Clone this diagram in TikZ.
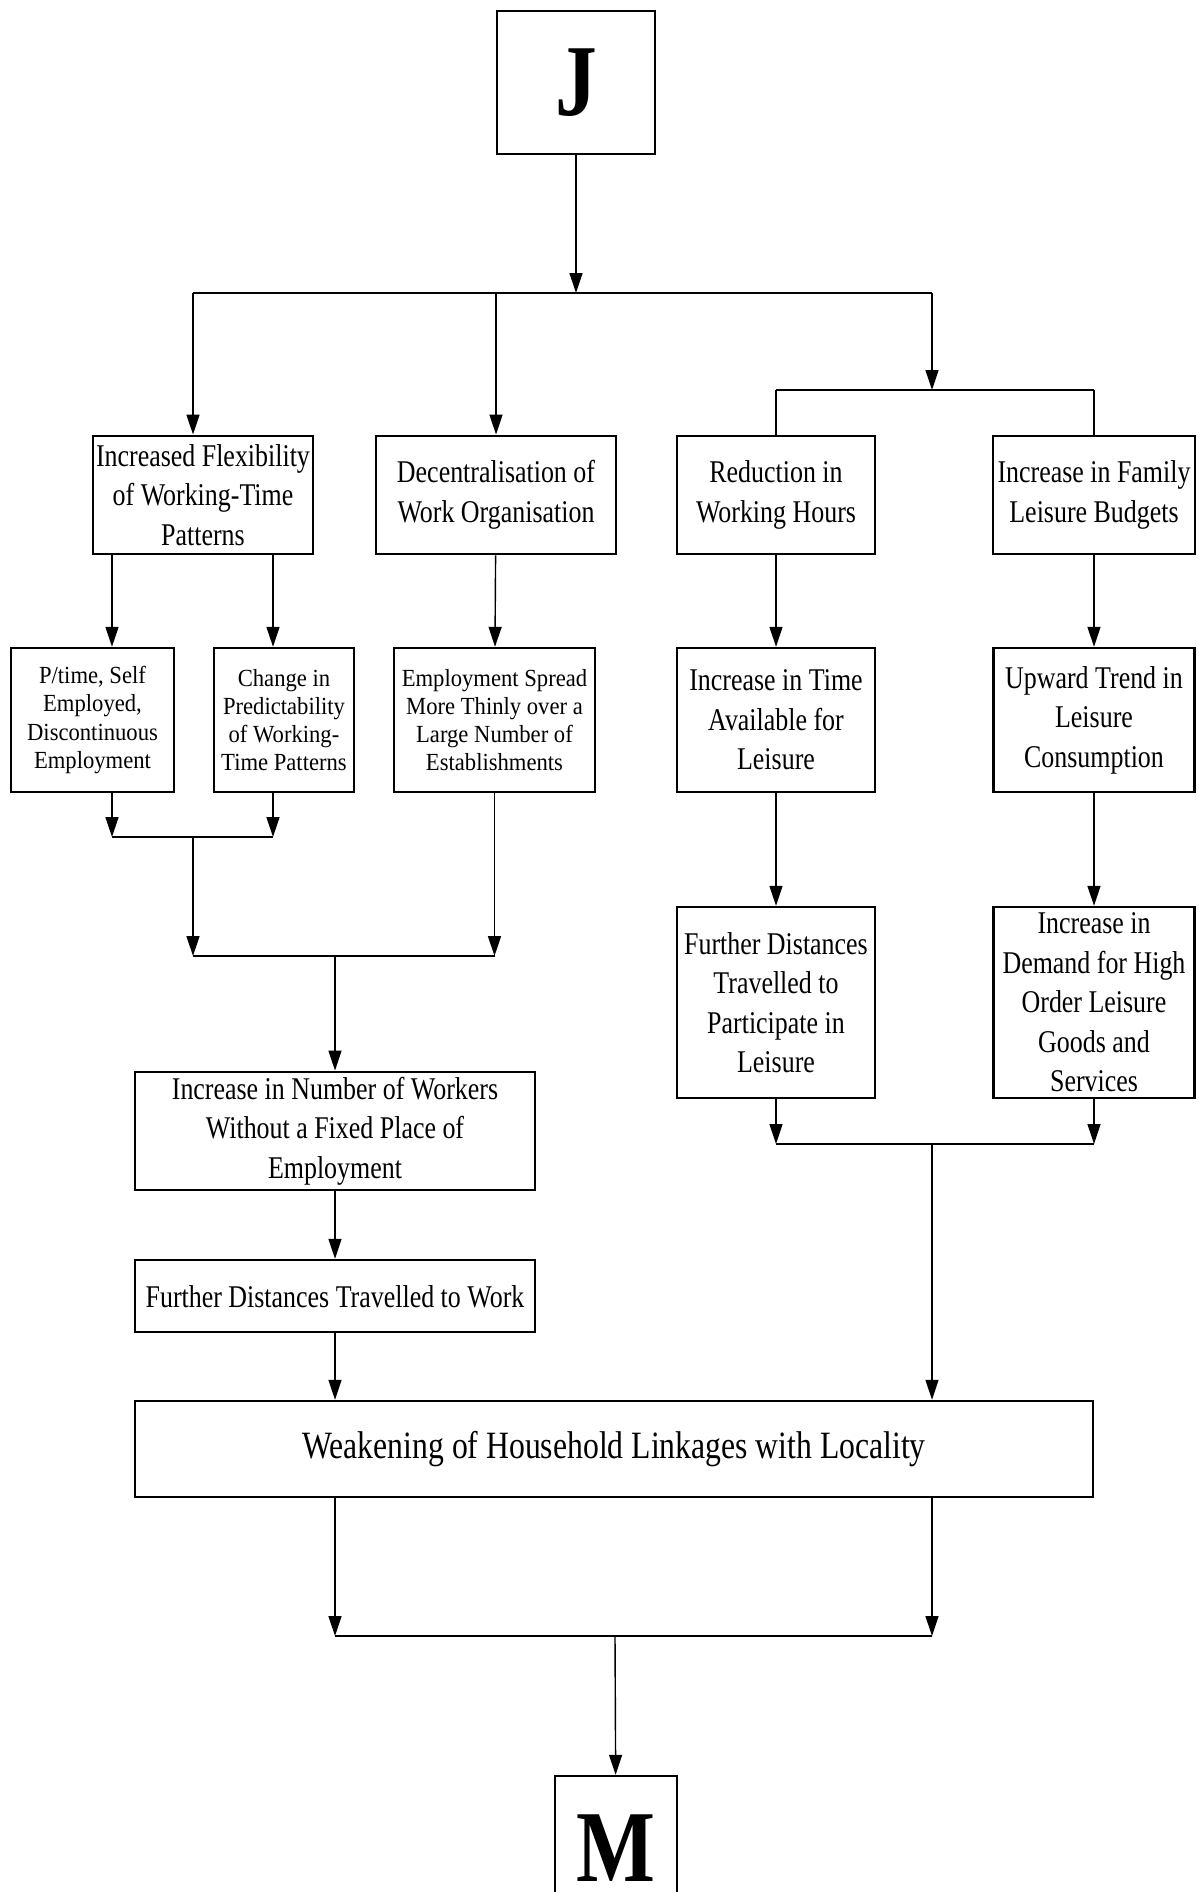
\documentclass[tikz,border=0pt]{standalone}
\usepackage{fontspec}
\setmainfont[FakeStretch=0.82]{Liberation Serif}
\newfontfamily\smallserif[FakeStretch=0.92]{Liberation Serif}
\usetikzlibrary{arrows.meta,positioning,calc}

\begin{document}
\begin{tikzpicture}[x=0.02cm,y=-0.02cm,font=\fontsize{18}{22.5}\selectfont,
    box/.style={draw,line width=1.4pt,inner sep=0pt,align=center},
    smallbox/.style={box,font=\smallserif\fontsize{14}{16}\selectfont},
    letterbox/.style={box,font=\fontsize{58}{60}\selectfont\bfseries},
    arr/.style={line width=0.8pt,-{Triangle[length=4mm,width=2.6mm]}},
    link/.style={line width=0.8pt},
    bar/.style={line width=1.6pt}]
      \clip (0,0) rectangle (1198,1892);

      \node[letterbox,minimum width=3.16cm,minimum height=2.86cm] (J) at (576,82.5) {J};

      \node[box,minimum width=4.40cm,minimum height=2.37cm] (flex) at (203,495)
        {Increased Flexibility\\of Working-Time\\Patterns};
      \node[box,minimum width=4.81cm,minimum height=2.37cm] (decent) at (496,495)
        {Decentralisation of\\Work Organisation};
      \node[box,minimum width=3.97cm,minimum height=2.37cm] (hours) at (776,495)
        {Reduction in\\Working Hours};
      \node[box,minimum width=4.05cm,minimum height=2.37cm] (budget) at (1094,495)
        {Increase in Family\\Leisure Budgets};

      \node[smallbox,minimum width=3.26cm,minimum height=2.88cm] (ptime) at (92.5,720)
        {P/time, Self\\Employed,\\Discontinuous\\Employment};
      \node[smallbox,minimum width=2.81cm,minimum height=2.88cm] (predict) at (284,720)
        {Change in\\Predictability\\of Working-\\Time Patterns};
      \node[smallbox,minimum width=4.02cm,minimum height=2.88cm] (spread) at (494.5,720)
        {Employment Spread\\More Thinly over a\\Large Number of\\Establishments};
      \node[box,minimum width=3.97cm,minimum height=2.88cm] (timeav) at (776,720)
        {Increase in Time\\Available for\\Leisure};
      \node[box,minimum width=4.02cm,minimum height=2.88cm] (trend) at (1094,720)
        {Upward Trend in\\Leisure\\Consumption};

      \node[box,minimum width=3.97cm,minimum height=3.82cm] (travel) at (776,1002.5)
        {Further Distances\\Travelled to\\Participate in\\Leisure};
      \node[box,minimum width=4.02cm,minimum height=3.82cm] (demand) at (1094,1002.5)
        {Increase in\\Demand for High\\Order Leisure\\Goods and\\Services};

      \node[box,minimum width=8.0cm,minimum height=2.37cm] (workers) at (335,1131)
        {Increase in Number of Workers\\Without a Fixed Place of\\Employment};
      \node[box,minimum width=8.0cm,minimum height=1.44cm,text height=1.3em,text depth=0pt]
        (distwork) at (335,1296) {Further Distances Travelled to Work};
      \node[box,minimum width=19.16cm,minimum height=1.92cm,font=\fontsize{22}{26}\selectfont]
        (weaken) at (614,1449) {Weakening of Household Linkages with Locality};

      \node[letterbox,minimum width=2.44cm,minimum height=2.9cm] (M) at (616,1848.5) {M};

      \coordinate (topl) at (193,293);
      \coordinate (topr) at (932,293);
      \coordinate (rightbar) at (932,390);
      \coordinate (ptin) at ([xshift=0.39cm]ptime.north);
      \coordinate (prin) at ([xshift=-0.22cm]predict.north);
      \coordinate (lowbar1) at (193,837);
      \coordinate (lowbar2) at (193,956);
      \coordinate (leisbar) at (932,1144);
      \coordinate (endbar) at (615,1636);

      \draw[arr] (J) -- (J |- topl);
      \draw[bar] (topl) -- (topr);
      \draw[arr] (topl) -- (topl |- flex.north);
      \draw[arr] (decent |- topl) -- (decent);
      \draw[arr] (topr) -- (rightbar);
      \draw[bar] (hours |- rightbar) -- (budget |- rightbar);
      \draw[link] (hours |- rightbar) -- (hours);
      \draw[link] (budget |- rightbar) -- (budget);

      \draw[arr] (flex.south -| ptin) -- (ptin);
      \draw[arr] (flex.south -| prin) -- (prin);
      \draw[arr] (ptime.south -| ptin) -- (ptin |- lowbar1);
      \draw[arr] (predict.south -| prin) -- (prin |- lowbar1);
      \draw[bar] (ptin |- lowbar1) -- (prin |- lowbar1);
      \draw[arr] (lowbar1) -- (lowbar2);
      \draw[arr] (decent) -- (spread);
      \draw[arr] (spread) -- (spread |- lowbar2);
      \draw[bar] (lowbar2) -- (spread |- lowbar2);
      \draw[arr] (workers |- lowbar2) -- (workers);
      \draw[arr] (workers) -- (distwork);
      \draw[arr] (distwork) -- (distwork |- weaken.north);

      \draw[arr] (hours) -- (timeav);
      \draw[arr] (timeav) -- (travel);
      \draw[arr] (budget) -- (trend);
      \draw[arr] (trend) -- (demand);
      \draw[arr] (travel) -- (travel |- leisbar);
      \draw[arr] (demand) -- (demand |- leisbar);
      \draw[bar] (travel |- leisbar) -- (demand |- leisbar);
      \draw[arr] (leisbar) -- (leisbar |- weaken.north);

      \draw[arr] (distwork |- weaken.south) -- (distwork |- endbar);
      \draw[arr] (leisbar |- weaken.south) -- (leisbar |- endbar);
      \draw[bar] (distwork |- endbar) -- (leisbar |- endbar);
      \draw[arr] (endbar) -- (M);
    \end{tikzpicture}
\end{document}
